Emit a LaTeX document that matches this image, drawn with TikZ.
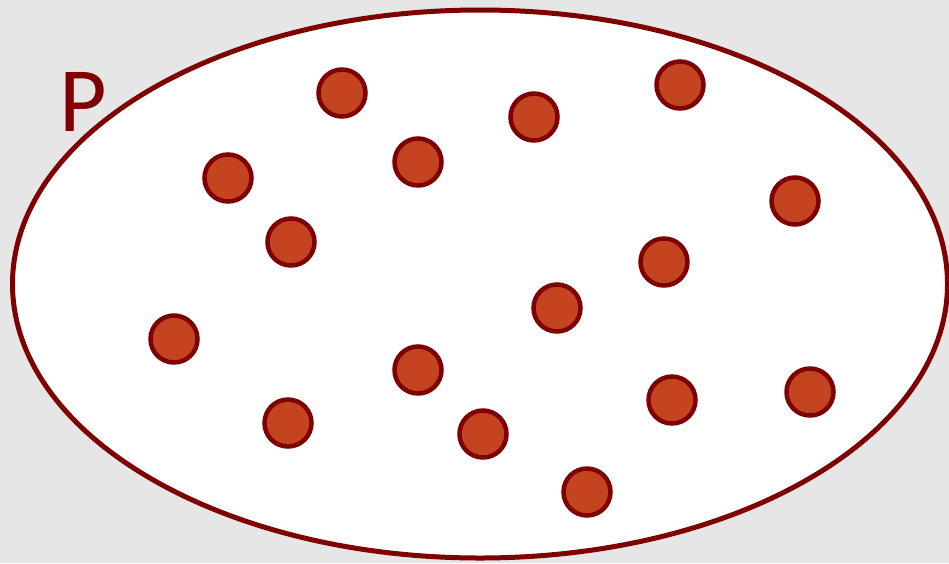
\documentclass[tikz,border=0pt]{standalone}
\usepackage{fontspec}
\setmainfont{Carlito}
\usetikzlibrary{shapes.geometric}
\definecolor{rim}{HTML}{7F0000}
\definecolor{dotfill}{HTML}{C4441F}
\definecolor{bg}{HTML}{E6E6E6}
\begin{document}
\begin{tikzpicture}[x=1pt,y=-1pt,
  dot/.style={circle,draw=rim,fill=dotfill,line width=4.5pt,minimum size=47pt,inner sep=0pt}]
\fill[bg] (0,0) rectangle (949,563);
\useasboundingbox (0,0) rectangle (949,563);
\node[draw=rim,fill=white,line width=5pt,ellipse,minimum width=935pt,minimum height=548pt,inner sep=0pt] (P) at (480,284) {};
\node[text=rim,font=\fontsize{92}{92}\selectfont,anchor=base west,inner sep=0pt] (lbl) at (59,131) {P};
\foreach \n/\x/\y in {a/342/93, b/534/117, c/680/85, d/418/162, e/228/178, f/291/242, g/795/201, h/664/262, i/557/308, j/174/339, k/418/370, l/288/423, m/483/434, n/672/400, o/810/392, q/587/492}
  \node[dot] (\n) at (\x,\y) {};
\end{tikzpicture}
\end{document}
